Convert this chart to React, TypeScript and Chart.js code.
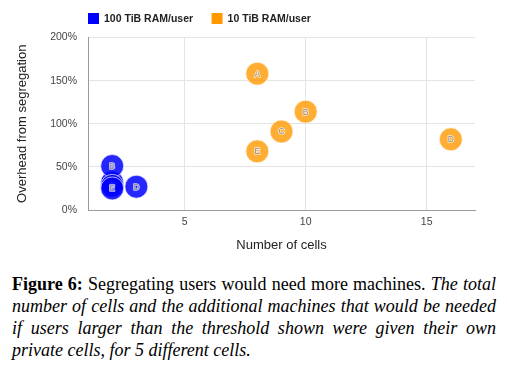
import React, { useEffect, useRef } from "react";
import { Chart, registerables } from "chart.js";

Chart.register(...registerables);

const pointLabels = ["A", "B", "C", "D", "E"];
const seriesNames = ["100 TiB RAM/user", "10 TiB RAM/user"];
const cells100 = [2, 2, 2, 3, 2];
const overhead100 = [32, 51, 28, 27, 25];
const cells10 = [8, 10, 9, 16, 8];
const overhead10 = [158, 114, 91, 82, 68];
const xTicks = [5, 10, 15];
const yTicks = [0, 50, 100, 150, 200];
const xTitle = "Number of cells";
const yTitle = "Overhead from segregation";

const SANS = "'Liberation Sans', Arial, sans-serif";
const BLUE = "#0000ff";
const ORANGE = "#ff9900";

const legendPlugin = {
  id: "topLegend",
  afterDraw(chart: any) {
    const ctx = chart.ctx;
    const left = chart.chartArea.left;
    const cy = 18.5;
    ctx.save();
    ctx.font = `bold 10.5px ${SANS}`;
    ctx.textBaseline = "middle";
    ctx.textAlign = "left";
    let x = left;
    chart.data.datasets.forEach((ds: any) => {
      ctx.fillStyle = ds.legendColor;
      ctx.fillRect(x, cy - 5.5, 11, 11);
      ctx.fillStyle = "#222";
      ctx.fillText(ds.label, x + 16, cy + 0.5);
      x += 16 + ctx.measureText(ds.label).width + 18.5;
    });
    ctx.restore();
  },
};

// Draw each bubble followed by its label, so later bubbles cover earlier labels.
const bubbleLabelPlugin = {
  id: "bubbleLabels",
  beforeDatasetDraw(chart: any, args: any) {
    const ctx = chart.ctx;
    const meta = args.meta;
    const area = chart.chartArea;
    ctx.save();
    ctx.beginPath();
    ctx.rect(area.left, area.top, area.right - area.left, area.bottom - area.top);
    ctx.clip();
    meta.data.forEach((el: any, i: number) => {
      el.draw(ctx, area);
      const t = pointLabels[i];
      ctx.font = `8.5px ${SANS}`;
      ctx.textAlign = "center";
      ctx.textBaseline = "middle";
      ctx.lineWidth = 1.6;
      ctx.lineJoin = "round";
      ctx.strokeStyle = "rgba(255,255,255,0.75)";
      ctx.strokeText(t, el.x, el.y + 0.5);
      ctx.fillStyle = "#8c8c8c";
      ctx.fillText(t, el.x, el.y + 0.5);
    });
    ctx.restore();
    return false;
  },
};

export default function App() {
  const canvasRef = useRef<HTMLCanvasElement | null>(null);

  useEffect(() => {
    const canvas = canvasRef.current;
    if (!canvas) return;
    const chart = new Chart(canvas, {
      type: "bubble",
      data: {
        datasets: [
          {
            label: seriesNames[0],
            legendColor: BLUE,
            data: cells100.map((x, i) => ({ x, y: overhead100[i], r: 11.5 })),
            backgroundColor: "rgba(0,0,255,0.85)",
            borderColor: "rgba(255,255,255,0.7)",
            borderWidth: 1,
          } as any,
          {
            label: seriesNames[1],
            legendColor: ORANGE,
            data: cells10.map((x, i) => ({ x, y: overhead10[i], r: 11.5 })),
            backgroundColor: "rgba(255,153,0,0.8)",
            borderColor: "rgba(255,255,255,0.7)",
            borderWidth: 1,
          } as any,
        ],
      },
      options: {
        animation: false,
        responsive: false,
        layout: { padding: { top: 37.5, right: 32, left: 0, bottom: 0 } },
        plugins: {
          legend: { display: false },
          tooltip: { enabled: false },
        },
        scales: {
          x: {
            type: "linear",
            min: 1,
            max: 17,
            afterBuildTicks: (scale: any) => {
              scale.ticks = xTicks.map((v) => ({ value: v }));
            },
            afterFit: (scale: any) => {
              scale.height = 52;
            },
            grid: { color: "#e4e4e4", drawTicks: false, lineWidth: 1 },
            border: { color: "#9a9a9a", width: 1 },
            ticks: {
              padding: 6,
              color: "#444",
              font: { family: SANS, size: 10.5 },
              maxRotation: 0,
            },
            title: {
              display: true,
              text: xTitle,
              color: "#222",
              font: { family: SANS, size: 13 },
              padding: { top: 0, bottom: 8.5 },
            },
          },
          y: {
            type: "linear",
            min: 0,
            max: 200,
            afterBuildTicks: (scale: any) => {
              scale.ticks = yTicks.map((v) => ({ value: v }));
            },
            afterFit: (scale: any) => {
              scale.width = 88;
            },
            grid: { color: "#e4e4e4", drawTicks: false, lineWidth: 1 },
            border: { color: "#9a9a9a", width: 1 },
            ticks: {
              padding: 11,
              color: "#444",
              font: { family: SANS, size: 10.5 },
              callback: (v: any) => `${v}%`,
            },
            title: {
              display: true,
              text: yTitle,
              color: "#222",
              font: { family: SANS, size: 13 },
              padding: { top: 15, bottom: 0 },
            },
          },
        },
      } as any,
      plugins: [legendPlugin, bubbleLabelPlugin],
    });
    return () => chart.destroy();
  }, []);

  const lineStyle: React.CSSProperties = {
    textAlign: "justify",
    textAlignLast: "justify" as any,
    whiteSpace: "nowrap",
    height: 22,
  };

  return (
    <div
      style={{
        position: "absolute",
        left: 0,
        top: 0,
        width: 507,
        height: 367,
        background: "#fff",
        overflow: "hidden",
      }}
    >
      <canvas
        ref={canvasRef}
        width={507}
        height={262}
        style={{ position: "absolute", left: 0, top: 0, width: 507, height: 262 }}
      />
      <div
        style={{
          position: "absolute",
          left: 12,
          top: 273,
          width: 484,
          fontFamily: "'Liberation Serif', 'Times New Roman', serif",
          fontSize: 18,
          lineHeight: "22px",
          color: "#000",
        }}
      >
        <div style={lineStyle}>
          <b>Figure 6:</b> Segregating users would need more machines. <i>The total</i>
        </div>
        <div style={lineStyle}>
          <i>number of cells and the additional machines that would be needed</i>
        </div>
        <div style={lineStyle}>
          <i>if users larger than the threshold shown were given their own</i>
        </div>
        <div style={{ height: 22 }}>
          <i>private cells, for 5 different cells.</i>
        </div>
      </div>
    </div>
  );
}
